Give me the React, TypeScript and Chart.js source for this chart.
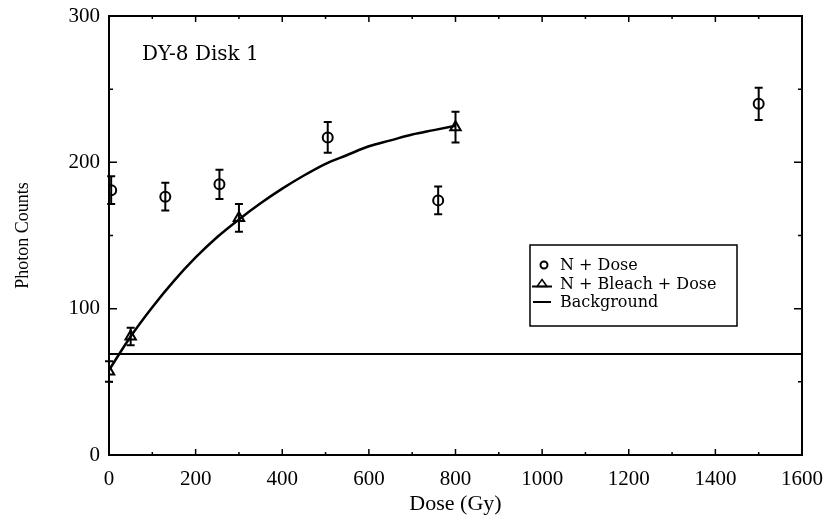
import { useEffect, useRef } from "react";
import { Chart, registerables } from "chart.js";
Chart.register(...registerables);

// N + Dose (circles)
const circleDose = [5, 130, 255, 505, 760, 1500];
const circleCounts = [181, 176.5, 185, 217, 174, 240];
const circleErr = [9.5, 9.5, 10, 10.5, 9.5, 11];
// N + Bleach + Dose (triangles)
const triDose = [0, 50, 300, 800];
const triCounts = [57, 81, 162, 224];
const triErr = [7, 6, 9.5, 10.5];
// fitted curve through the bleached points
const fitDose = [0, 50, 100, 150, 200, 250, 300, 350, 400, 450, 500, 550, 600, 650, 700, 750, 800];
const fitCounts = [58, 81, 101, 119, 135, 149, 161, 172, 182, 191, 199, 205, 211, 215, 219, 222, 225];
// background level
const backgroundDose = [0, 1600];
const backgroundCounts = [69, 69];

const xMajorTicks = [0, 200, 400, 600, 800, 1000, 1200, 1400, 1600];
const xMinorTicks = [100, 300, 500, 700, 900, 1100, 1300, 1500];
const yMajorTicks = [0, 100, 200, 300];
const yMinorTicks = [50, 150, 250];

const legendLabels = ["N + Dose", "N + Bleach + Dose", "Background"];
const panelLabel = "DY-8 Disk 1";

const SERIF = "'Liberation Serif', 'Times New Roman', serif";
const SERIF2 = "'DejaVu Serif', serif";

const errorBars = {
  id: "errorBars",
  afterDatasetsDraw(chart: any) {
    const { ctx, scales } = chart;
    const x = scales.x, y = scales.y;
    const draw = (xs: number[], ys: number[], es: number[]) => {
      ctx.save();
      ctx.strokeStyle = "#000";
      ctx.lineWidth = 2;
      xs.forEach((v, i) => {
        const px = x.getPixelForValue(v);
        const top = y.getPixelForValue(ys[i] + es[i]);
        const bot = y.getPixelForValue(ys[i] - es[i]);
        ctx.beginPath();
        ctx.moveTo(px, top);
        ctx.lineTo(px, bot);
        ctx.moveTo(px - 4, top);
        ctx.lineTo(px + 4, top);
        ctx.moveTo(px - 4, bot);
        ctx.lineTo(px + 4, bot);
        ctx.stroke();
      });
      ctx.restore();
    };
    draw(circleDose, circleCounts, circleErr);
    draw(triDose, triCounts, triErr);
  },
};

const frame = {
  id: "frame",
  afterDraw(chart: any) {
    const { ctx, chartArea: a, scales } = chart;
    const x = scales.x, y = scales.y;
    ctx.save();
    ctx.strokeStyle = "#000";
    ctx.lineWidth = 2;
    ctx.strokeRect(a.left, a.top, a.right - a.left, a.bottom - a.top);
    ctx.lineWidth = 1.5;
    ctx.beginPath();
    const xt = (vals: number[], len: number) =>
      vals.forEach((v) => {
        const px = x.getPixelForValue(v);
        ctx.moveTo(px, a.bottom);
        ctx.lineTo(px, a.bottom - len);
        ctx.moveTo(px, a.top);
        ctx.lineTo(px, a.top + len);
      });
    const yt = (vals: number[], len: number) =>
      vals.forEach((v) => {
        const py = y.getPixelForValue(v);
        ctx.moveTo(a.left, py);
        ctx.lineTo(a.left + len, py);
        ctx.moveTo(a.right, py);
        ctx.lineTo(a.right - len, py);
      });
    xt(xMajorTicks, 6);
    xt(xMinorTicks, 3);
    yt(yMajorTicks, 8);
    yt(yMinorTicks, 4);
    ctx.stroke();

    // panel label
    ctx.fillStyle = "#000";
    ctx.font = `20px ${SERIF2}`;
    ctx.textBaseline = "alphabetic";
    ctx.textAlign = "left";
    ctx.fillText(panelLabel, a.left + 33, a.top + 44);

    // legend box
    const bx = a.left + 421, by = a.top + 229, bw = 207, bh = 81;
    ctx.lineWidth = 1.5;
    ctx.strokeRect(bx, by, bw, bh);
    const rows = [by + 20, by + 38.5, by + 57];
    ctx.font = `16px ${SERIF2}`;
    ctx.textBaseline = "middle";
    legendLabels.forEach((t, i) => ctx.fillText(t, bx + 30, rows[i] + 1));
    // circle symbol
    ctx.lineWidth = 2;
    ctx.beginPath();
    ctx.arc(bx + 14, rows[0], 3.5, 0, Math.PI * 2);
    ctx.stroke();
    // triangle symbol with line
    ctx.beginPath();
    ctx.moveTo(bx + 2, rows[1] + 3);
    ctx.lineTo(bx + 22, rows[1] + 3);
    ctx.stroke();
    ctx.beginPath();
    ctx.moveTo(bx + 12, rows[1] - 4);
    ctx.lineTo(bx + 17, rows[1] + 3);
    ctx.lineTo(bx + 7, rows[1] + 3);
    ctx.closePath();
    ctx.lineWidth = 1.5;
    ctx.stroke();
    // background line
    ctx.lineWidth = 2;
    ctx.beginPath();
    ctx.moveTo(bx + 3, rows[2]);
    ctx.lineTo(bx + 21, rows[2]);
    ctx.stroke();
    ctx.restore();
  },
};

const noPad = (s: any) => {
  s.paddingLeft = 0;
  s.paddingRight = 0;
  s.paddingTop = 0;
  s.paddingBottom = 0;
};

export default function App() {
  const ref = useRef<HTMLCanvasElement>(null);
  useEffect(() => {
    if (!ref.current) return;
    const chart = new Chart(ref.current, {
      type: "scatter",
      data: {
        datasets: [
          {
            label: "fit",
            data: fitDose.map((d, i) => ({ x: d, y: fitCounts[i] })),
            showLine: true,
            borderColor: "#000",
            borderWidth: 2.5,
            pointRadius: 0,
            cubicInterpolationMode: "monotone",
          },
          {
            label: legendLabels[2],
            data: backgroundDose.map((d, i) => ({ x: d, y: backgroundCounts[i] })),
            showLine: true,
            borderColor: "#000",
            borderWidth: 2,
            pointRadius: 0,
          },
          {
            label: legendLabels[0],
            data: circleDose.map((d, i) => ({ x: d, y: circleCounts[i] })),
            pointStyle: "circle",
            pointRadius: 5,
            backgroundColor: "#fff",
            borderColor: "#000",
            borderWidth: 2,
          },
          {
            label: legendLabels[1],
            data: triDose.map((d, i) => ({ x: d, y: triCounts[i] })),
            pointStyle: "triangle",
            pointRadius: 6,
            backgroundColor: "#fff",
            borderColor: "#000",
            borderWidth: 2,
          },
        ],
      },
      options: {
        animation: false,
        responsive: false,
        layout: { padding: { left: 0, top: 8, right: 24, bottom: 0 } },
        plugins: { legend: { display: false }, tooltip: { enabled: false } },
        scales: {
          x: {
            type: "linear",
            min: 0,
            max: 1600,
            afterFit: (s: any) => { s.height = 66; noPad(s); },
            afterBuildTicks: (s: any) => { s.ticks = xMajorTicks.map((v) => ({ value: v })); },
            grid: { display: false, drawTicks: false },
            border: { display: false },
            ticks: {
              color: "#000",
              padding: 12,
              font: { family: SERIF, size: 21 },
              maxRotation: 0,
              callback: (v: any) => String(v),
            },
            title: { display: true, text: "Dose (Gy)", color: "#000", font: { family: SERIF, size: 22 }, padding: 4 },
          },
          y: {
            min: 0,
            max: 300,
            afterFit: (s: any) => { s.width = 101; noPad(s); },
            afterBuildTicks: (s: any) => { s.ticks = yMajorTicks.map((v) => ({ value: v })); },
            grid: { display: false, drawTicks: false },
            border: { display: false },
            ticks: { color: "#000", padding: 9, font: { family: SERIF, size: 21 }, callback: (v: any) => String(v) },
            title: { display: true, text: "Photon Counts", color: "#000", font: { family: SERIF, size: 18 }, padding: 4 },
          },
        },
      },
      plugins: [errorBars, frame],
    } as any);
    return () => chart.destroy();
  }, []);
  return (
    <canvas
      ref={ref}
      width={818}
      height={513}
      style={{ display: "block", position: "absolute", left: 8, top: 8, width: 818, height: 513 }}
    />
  );
}
